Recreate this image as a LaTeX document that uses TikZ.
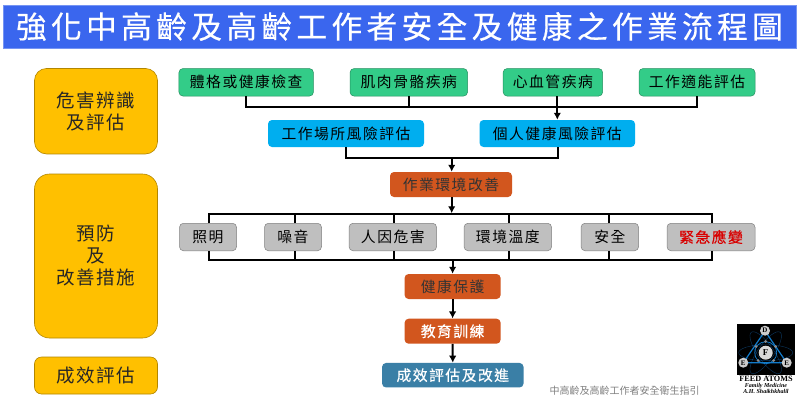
\documentclass[tikz,border=0pt]{standalone}
\usepackage{fontspec}
\usepackage{tikz}
\usetikzlibrary{arrows.meta}
\setmainfont{Noto Sans CJK TC}
\newfontfamily\titlefont[LetterSpace=14,FakeBold=.4]{Noto Sans CJK TC}
\newfontfamily\boxfont[LetterSpace=10]{Noto Sans CJK TC}
\newfontfamily\boxboldfont[LetterSpace=10,FakeBold=.5]{Noto Sans CJK TC}
\newfontfamily\stagefont[LetterSpace=8]{Noto Sans CJK TC}
\newfontfamily\logofont{Liberation Serif}
\definecolor{titleblue}{HTML}{3A66EE}
\definecolor{stageyellow}{HTML}{FFC000}
\definecolor{checkgreen}{HTML}{33CC88}
\definecolor{riskblue}{HTML}{00AEEF}
\definecolor{actionorange}{HTML}{D2561E}
\definecolor{itemgray}{HTML}{BFBFBF}
\definecolor{reviewblue}{HTML}{3A7FA6}
\tikzset{
	stagebox/.style={draw=stageyellow!70!black,fill=stageyellow,rounded corners=12pt,line width=.6pt,text=black!85,font=\stagefont\fontsize{18.5}{22}\selectfont,align=center,anchor=center},
	flowbox/.style={rounded corners=4pt,line width=.5pt,font=\boxfont\fontsize{14.8}{17}\selectfont,anchor=center},
	boldbox/.style={flowbox,font=\boxboldfont\fontsize{14.8}{17}\selectfont},
	link/.style={line width=2pt,black},
	arrowlink/.style={link,-{Latex[length=7pt,width=7.5pt]}}
}
\begin{document}
\begin{tikzpicture}[x=1pt,y=-1pt]
	\useasboundingbox (0,0) rectangle (800,400);
	\fill[white] (0,0) rectangle (800,400);
	\node[fill=titleblue,draw=titleblue!70!white,line width=.5pt,minimum width=793pt,minimum height=43pt,text=white,font=\titlefont\fontsize{30.75}{34}\selectfont,inner sep=0pt] (title) at (399.5,26.5) {強化中高齡及高齡工作者安全及健康之作業流程圖};
	% left column
	\node[stagebox,minimum width=123pt,minimum height=85.5pt] (stageA) at (96,111.2) {危害辨識\\及評估};
	\node[stagebox,rounded corners=15pt,minimum width=123pt,minimum height=164pt] (stageB) at (96,256) {};
	\node[font=\stagefont\fontsize{18.5}{22}\selectfont,text=black!85,align=center] (stageBtext) at (96,255.5) {預防\\及\\改善措施};
	\node[stagebox,rounded corners=7pt,minimum width=123pt,minimum height=37pt] (stageC) at (96,375.5) {成效評估};
	% checks
	\node[flowbox,fill=checkgreen,draw=checkgreen!70!black,minimum width=134.5pt,minimum height=27.5pt] (checkA) at (246.2,82.3) {體格或健康檢查};
	\node[flowbox,fill=checkgreen,draw=checkgreen!70!black,minimum width=117.5pt,minimum height=27.5pt] (checkB) at (408.8,82.3) {肌肉骨骼疾病};
	\node[flowbox,fill=checkgreen,draw=checkgreen!70!black,minimum width=99.5pt,minimum height=27.5pt] (checkC) at (552.9,82.3) {心血管疾病};
	\node[flowbox,fill=checkgreen,draw=checkgreen!70!black,minimum width=116pt,minimum height=27.5pt] (checkD) at (697,82.3) {工作適能評估};
	% risk
	\node[flowbox,fill=riskblue,minimum width=156pt,minimum height=27pt] (riskA) at (346,133.5) {工作場所風險評估};
	\node[flowbox,fill=riskblue,minimum width=155.5pt,minimum height=27pt] (riskB) at (557.3,133.5) {個人健康風險評估};
	% actions
	\node[flowbox,fill=actionorange,minimum width=122pt,minimum height=25pt,text=black!80] (improve) at (451,184.5) {作業環境改善};
	\foreach \name/\cx/\w/\txt in {itemA/208/57/照明,itemB/293/57/噪音,itemC/392.8/87.5/人因危害,itemD/507.8/87.5/環境溫度,itemE/609.8/57.5/安全}
		\node[flowbox,fill=itemgray,draw=black!50,minimum width=\w pt,minimum height=27.5pt] (\name) at (\cx,237) {\txt};
	\node[boldbox,fill=itemgray,draw=black!50,minimum width=88pt,minimum height=27.5pt,text=red!85!black] (itemF) at (711,237) {緊急應變};
	\node[flowbox,fill=actionorange,minimum width=96pt,minimum height=25pt,text=black!80] (health) at (452.6,286.5) {健康保護};
	\node[boldbox,fill=actionorange,minimum width=96pt,minimum height=25pt,text=white] (train) at (452.6,331.2) {教育訓練};
	\node[boldbox,fill=reviewblue,minimum width=141.5pt,minimum height=24.5pt,text=white] (review) at (452.8,375.2) {成效評估及改進};
	% connectors
	\draw[link] (checkA.south) -- ++(0,10.5) -| (checkD.south);
	\draw[link] (checkB.south) -- ++(0,10.5);
	\draw[arrowlink] (checkC.south -| riskB.north) -- (riskB.north);
	\draw[link] (riskA.south) -- ++(0,10.5) -| ([xshift=1pt]riskB.south);
	\draw[arrowlink] (improve.north |- riskA.south) ++(.7,10.5) -- ([xshift=.7pt]improve.north);
	\draw[arrowlink] ([xshift=.7pt]improve.south) -- ++(0,16);
	\draw[link] ([xshift=.7pt]itemA.north) -- ++(0,-9) -| ([xshift=.7pt]itemF.north);
	\draw[link] ([xshift=.7pt]itemA.south) -- ++(0,9) -| ([xshift=.7pt]itemF.south);
	\foreach \name/\dx in {itemB/2,itemC/1.2,itemD/1.2,itemE/-.7} {
		\draw[link] ([xshift=\dx pt]\name.north) -- ++(0,-9);
		\draw[link] ([xshift=\dx pt]\name.south) -- ++(0,9);
	}
	\draw[arrowlink] (health.north |- itemA.south) ++(0,9) -- (health.north);
	\draw[arrowlink] (health) -- (train);
	\draw[arrowlink] (train.south) -- (review.north);
	% source and logo
	\node[text=black!50,font=\fontsize{10}{12}\selectfont] (source) at (624.5,391) {中高齡及高齡工作者安全衛生指引};
	\fill[black] (737,323.5) rectangle (794.5,374.5);
	\draw[cyan!50!blue,opacity=.5,line width=.4pt] (765.7,352.7) ellipse (27pt and 8pt);
	\draw[cyan!50!blue,opacity=.5,line width=.4pt,rotate around={55:(765.7,352.7)}] (765.7,352.7) ellipse (25pt and 8pt);
	\draw[cyan!50!blue,opacity=.5,line width=.4pt,rotate around={-55:(765.7,352.7)}] (765.7,352.7) ellipse (25pt and 8pt);
	\draw[cyan!60!blue,line width=1.2pt] (765,331) -- (743.3,362.7) -- (786.7,362.7) -- cycle;
	\draw[cyan!60!blue,line width=.7pt] (765.7,352.7) circle (11pt);
	\foreach \dotname/\lx/\ly in {dotA/765.7/341.5,dotB/756/346.5,dotC/775.5/346.5,dotD/758/360.5,dotE/773.5/360.5}
		\fill[black!45] (\lx,\ly) circle (1.5pt);
	\foreach \logoname/\lx/\ly/\ltxt in {logoD/765/330.7/D,logoL/743.3/362.7/E,logoR/786.7/362.7/E}
		\node[circle,fill=black!20,minimum size=10pt,inner sep=0pt,font=\logofont\bfseries\fontsize{7}{8}\selectfont] (\logoname) at (\lx,\ly) {\ltxt};
	\node[circle,fill=black!15,minimum size=14pt,inner sep=0pt,font=\logofont\bfseries\fontsize{9}{9}\selectfont] (logoF) at (765.7,352.7) {F};
	\node[font=\logofont\bfseries\fontsize{8.2}{9}\selectfont,inner sep=0pt] (logoname) at (766,379.3) {FEED ATOMS};
	\node[font=\logofont\bfseries\itshape\fontsize{6}{6}\selectfont,inner sep=0pt] (logosub) at (766,386) {Family Medicine};
	\node[font=\logofont\bfseries\itshape\fontsize{6}{6}\selectfont,inner sep=0pt] (logoauthor) at (766,391) {A.H. Shaikhkhalil};
\end{tikzpicture}
\end{document}
